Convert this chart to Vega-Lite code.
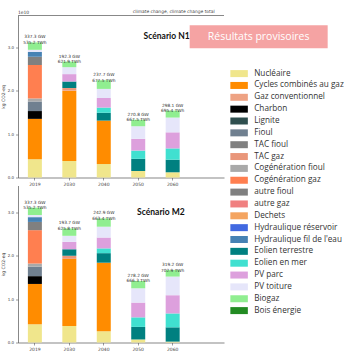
{
  "$schema": "https://vega.github.io/schema/vega-lite/v6.json",
  "padding": {"left": 0, "top": 8.5, "right": 0, "bottom": 0},
  "bounds": "flush",
  "spacing": 8,
  "config": {
    "font": "DejaVu Sans",
    "view": {"stroke": null},
    "axis": {"grid": false, "domainColor": "#555", "tickColor": "#555", "labelColor": "#444", "titleColor": "#444", "domainWidth": 0.7, "tickWidth": 0.6}
  },
  "resolve": {"scale": {"color": "shared"}},
  "datasets": {
    "techs": [
      {"tech": "Nucléaire", "k": 0}, {"tech": "Cycles combinés au gaz", "k": 1}, {"tech": "Gaz conventionnel", "k": 2},
      {"tech": "Charbon", "k": 3}, {"tech": "Lignite", "k": 4}, {"tech": "Fioul", "k": 5}, {"tech": "TAC fioul", "k": 6},
      {"tech": "TAC gaz", "k": 7}, {"tech": "Cogénération fioul", "k": 8}, {"tech": "Cogénération gaz", "k": 9},
      {"tech": "autre fioul", "k": 10}, {"tech": "autre gaz", "k": 11}, {"tech": "Dechets", "k": 12},
      {"tech": "Hydraulique réservoir", "k": 13}, {"tech": "Hydraulique fil de l'eau", "k": 14},
      {"tech": "Eolien terrestre", "k": 15}, {"tech": "Eolien en mer", "k": 16}, {"tech": "PV parc", "k": 17},
      {"tech": "PV toiture", "k": 18}, {"tech": "Biogaz", "k": 19}, {"tech": "Bois énergie", "k": 20}
    ],
    "labN1": [
      {"year": "2019", "lab": "337.3 GW\n535.2 TWh"},
      {"year": "2030", "lab": "192.3 GW\n621.9 TWh"},
      {"year": "2040", "lab": "237.7 GW\n677.5 TWh"},
      {"year": "2050", "lab": "270.8 GW\n667.5 TWh"},
      {"year": "2060", "lab": "298.1 GW\n695.4 TWh"}
    ],
    "labM2": [
      {"year": "2019", "lab": "337.3 GW\n535.2 TWh"},
      {"year": "2030", "lab": "193.7 GW\n625.8 TWh"},
      {"year": "2040", "lab": "242.9 GW\n663.4 TWh"},
      {"year": "2050", "lab": "278.2 GW\n666.3 TWh"},
      {"year": "2060", "lab": "319.2 GW\n702.9 TWh"}
    ],
    "seg": [
      {"s": "N1", "year": "2019", "tech": "Nucléaire", "v": 0.42},
      {"s": "N1", "year": "2019", "tech": "Cycles combinés au gaz", "v": 0.93},
      {"s": "N1", "year": "2019", "tech": "Charbon", "v": 0.18},
      {"s": "N1", "year": "2019", "tech": "Fioul", "v": 0.22},
      {"s": "N1", "year": "2019", "tech": "Cogénération fioul", "v": 0.07},
      {"s": "N1", "year": "2019", "tech": "Cogénération gaz", "v": 0.77},
      {"s": "N1", "year": "2019", "tech": "autre fioul", "v": 0.19},
      {"s": "N1", "year": "2019", "tech": "Hydraulique fil de l'eau", "v": 0.11},
      {"s": "N1", "year": "2019", "tech": "PV toiture", "v": 0.05},
      {"s": "N1", "year": "2019", "tech": "Biogaz", "v": 0.17},
      {"s": "N1", "year": "2030", "tech": "Nucléaire", "v": 0.38},
      {"s": "N1", "year": "2030", "tech": "Cycles combinés au gaz", "v": 1.62},
      {"s": "N1", "year": "2030", "tech": "TAC gaz", "v": 0.06},
      {"s": "N1", "year": "2030", "tech": "Eolien terrestre", "v": 0.15},
      {"s": "N1", "year": "2030", "tech": "PV parc", "v": 0.17},
      {"s": "N1", "year": "2030", "tech": "PV toiture", "v": 0.16},
      {"s": "N1", "year": "2030", "tech": "Biogaz", "v": 0.13},
      {"s": "N1", "year": "2040", "tech": "Nucléaire", "v": 0.31},
      {"s": "N1", "year": "2040", "tech": "Cycles combinés au gaz", "v": 1.00},
      {"s": "N1", "year": "2040", "tech": "Eolien terrestre", "v": 0.18},
      {"s": "N1", "year": "2040", "tech": "Eolien en mer", "v": 0.12},
      {"s": "N1", "year": "2040", "tech": "PV parc", "v": 0.22},
      {"s": "N1", "year": "2040", "tech": "PV toiture", "v": 0.21},
      {"s": "N1", "year": "2040", "tech": "Biogaz", "v": 0.20},
      {"s": "N1", "year": "2050", "tech": "Nucléaire", "v": 0.15},
      {"s": "N1", "year": "2050", "tech": "Eolien terrestre", "v": 0.28},
      {"s": "N1", "year": "2050", "tech": "Eolien en mer", "v": 0.19},
      {"s": "N1", "year": "2050", "tech": "PV parc", "v": 0.27},
      {"s": "N1", "year": "2050", "tech": "PV toiture", "v": 0.29},
      {"s": "N1", "year": "2050", "tech": "Biogaz", "v": 0.15},
      {"s": "N1", "year": "2060", "tech": "Nucléaire", "v": 0.12},
      {"s": "N1", "year": "2060", "tech": "Eolien terrestre", "v": 0.29},
      {"s": "N1", "year": "2060", "tech": "Eolien en mer", "v": 0.26},
      {"s": "N1", "year": "2060", "tech": "PV parc", "v": 0.37},
      {"s": "N1", "year": "2060", "tech": "PV toiture", "v": 0.34},
      {"s": "N1", "year": "2060", "tech": "Biogaz", "v": 0.16},
      {"s": "M2", "year": "2019", "tech": "Nucléaire", "v": 0.42},
      {"s": "M2", "year": "2019", "tech": "Cycles combinés au gaz", "v": 0.93},
      {"s": "M2", "year": "2019", "tech": "Charbon", "v": 0.18},
      {"s": "M2", "year": "2019", "tech": "Fioul", "v": 0.22},
      {"s": "M2", "year": "2019", "tech": "Cogénération fioul", "v": 0.07},
      {"s": "M2", "year": "2019", "tech": "Cogénération gaz", "v": 0.77},
      {"s": "M2", "year": "2019", "tech": "autre fioul", "v": 0.19},
      {"s": "M2", "year": "2019", "tech": "Hydraulique fil de l'eau", "v": 0.11},
      {"s": "M2", "year": "2019", "tech": "PV toiture", "v": 0.05},
      {"s": "M2", "year": "2019", "tech": "Biogaz", "v": 0.17},
      {"s": "M2", "year": "2030", "tech": "Nucléaire", "v": 0.38},
      {"s": "M2", "year": "2030", "tech": "Cycles combinés au gaz", "v": 1.55},
      {"s": "M2", "year": "2030", "tech": "TAC gaz", "v": 0.07},
      {"s": "M2", "year": "2030", "tech": "Eolien terrestre", "v": 0.15},
      {"s": "M2", "year": "2030", "tech": "PV parc", "v": 0.17},
      {"s": "M2", "year": "2030", "tech": "PV toiture", "v": 0.14},
      {"s": "M2", "year": "2030", "tech": "Biogaz", "v": 0.17},
      {"s": "M2", "year": "2040", "tech": "Nucléaire", "v": 0.26},
      {"s": "M2", "year": "2040", "tech": "Cycles combinés au gaz", "v": 1.58},
      {"s": "M2", "year": "2040", "tech": "Eolien terrestre", "v": 0.22},
      {"s": "M2", "year": "2040", "tech": "Eolien en mer", "v": 0.11},
      {"s": "M2", "year": "2040", "tech": "PV parc", "v": 0.25},
      {"s": "M2", "year": "2040", "tech": "PV toiture", "v": 0.25},
      {"s": "M2", "year": "2040", "tech": "Biogaz", "v": 0.19},
      {"s": "M2", "year": "2050", "tech": "Nucléaire", "v": 0.07},
      {"s": "M2", "year": "2050", "tech": "Eolien terrestre", "v": 0.29},
      {"s": "M2", "year": "2050", "tech": "Eolien en mer", "v": 0.22},
      {"s": "M2", "year": "2050", "tech": "PV parc", "v": 0.34},
      {"s": "M2", "year": "2050", "tech": "PV toiture", "v": 0.33},
      {"s": "M2", "year": "2050", "tech": "Biogaz", "v": 0.17},
      {"s": "M2", "year": "2060", "tech": "Nucléaire", "v": 0.02},
      {"s": "M2", "year": "2060", "tech": "Eolien terrestre", "v": 0.33},
      {"s": "M2", "year": "2060", "tech": "Eolien en mer", "v": 0.32},
      {"s": "M2", "year": "2060", "tech": "PV parc", "v": 0.42},
      {"s": "M2", "year": "2060", "tech": "PV toiture", "v": 0.43},
      {"s": "M2", "year": "2060", "tech": "Biogaz", "v": 0.15}
    ]
  },
  "vconcat": [
    {
      "width": 206,
      "height": 162,
      "data": {"name": "seg"},
      "transform": [{"filter": "datum.s === 'N1'"}],
      "layer": [
        {
          "transform": [{"lookup": "tech", "from": {"data": {"name": "techs"}, "key": "tech", "fields": ["k"]}}],
          "mark": {"type": "bar", "width": 14},
          "encoding": {
            "x": {"field": "year", "type": "nominal",
              "scale": {"domain": ["2019", "2030", "2040", "2050", "2060", " "], "paddingInner": 0.6, "paddingOuter": 0.29},
              "axis": {"values": ["2019", "2030", "2040", "2050", "2060"], "title": null, "labelAngle": 0, "labelFontSize": 4.5, "tickSize": 2.5, "labelPadding": 1.5}},
            "y": {"field": "v", "type": "quantitative", "stack": "zero",
              "scale": {"domain": [0, 3.73], "nice": false},
              "axis": {"title": "kg CO2-eq", "titleFontSize": 4.5, "titleFontWeight": "normal", "titlePadding": 2, "labelFontSize": 4, "tickSize": 2.5, "labelPadding": 2, "values": [0, 0.5, 1, 1.5, 2, 2.5, 3, 3.5], "format": ".1f"}},
            "color": {"field": "tech", "type": "nominal",
              "scale": {
                "domain": ["Nucléaire", "Cycles combinés au gaz", "Gaz conventionnel", "Charbon", "Lignite", "Fioul", "TAC fioul", "TAC gaz", "Cogénération fioul", "Cogénération gaz", "autre fioul", "autre gaz", "Dechets", "Hydraulique réservoir", "Hydraulique fil de l'eau", "Eolien terrestre", "Eolien en mer", "PV parc", "PV toiture", "Biogaz", "Bois énergie"],
                "range": ["#f0e68c", "#ff8c00", "#eea283", "#000000", "#2f4f4f", "#708090", "#808080", "#e9967a", "#a9a9a9", "#ff7f50", "#808080", "#f08080", "#f4a460", "#4169e1", "#4682b4", "#008080", "#40e0d0", "#dda0dd", "#e6e6fa", "#90ee90", "#228b22"]},
              "legend": {"orient": "none", "legendX": 217, "legendY": 54, "title": null, "symbolType": "M-2.5,-1H2.5V1H-2.5Z", "symbolSize": 49, "symbolStrokeWidth": 0, "symbolOpacity": 1, "labelFontSize": 8.2, "labelOffset": 11, "rowPadding": 2.85, "labelColor": "#333", "labelLimit": 0, "labelFont": "Open Sans"}},
            "order": {"field": "k", "type": "quantitative"}
          }
        },
        {
          "transform": [
            {"aggregate": [{"op": "sum", "field": "v", "as": "tot"}], "groupby": ["year"]},
            {"lookup": "year", "from": {"data": {"name": "labN1"}, "key": "year", "fields": ["lab"]}}
          ],
          "mark": {"type": "text", "baseline": "bottom", "dy": -3, "fontSize": 4.3, "lineHeight": 5.5, "lineBreak": "\n", "color": "#333"},
          "encoding": {
            "x": {"field": "year", "type": "nominal"},
            "y": {"field": "tot", "type": "quantitative"},
            "text": {"field": "lab"}
          }
        },
        {
          "data": {"values": [{}]},
          "mark": {"type": "rule", "color": "#555", "strokeWidth": 0.7},
          "encoding": {"y": {"datum": 3.73}}
        },
        {
          "data": {"values": [{}]},
          "mark": {"type": "text", "text": "1e10", "align": "left", "baseline": "bottom", "dx": -17, "dy": -1, "fontSize": 4.5, "color": "#444"},
          "encoding": {"x": {"datum": "2019"}, "y": {"datum": 3.73}}
        },
        {
          "data": {"values": [{}]},
          "mark": {"type": "text", "text": "climate change, climate change total", "align": "right", "baseline": "bottom", "dx": 42, "dy": -2, "fontSize": 4.4, "color": "#444"},
          "encoding": {"x": {"datum": "2060"}, "y": {"datum": 3.73}}
        },
        {
          "data": {"values": [{}]},
          "mark": {"type": "text", "text": "Scénario N1", "align": "right", "baseline": "middle", "dx": 17, "fontSize": 8.5, "fontWeight": "bold", "font": "Lato", "color": "#111"},
          "encoding": {"x": {"datum": "2060"}, "y": {"datum": 3.26}}
        },
        {
          "data": {"values": [{}]},
          "mark": {"type": "point", "shape": "M-1,-0.1667H1V0.1667H-1Z", "size": 19044, "filled": true, "opacity": 1, "color": "#f5a3a3", "strokeWidth": 0, "xOffset": 86},
          "encoding": {"x": {"datum": "2060"}, "y": {"datum": 3.24}}
        },
        {
          "data": {"values": [{}]},
          "mark": {"type": "text", "text": "Résultats provisoires", "align": "center", "baseline": "middle", "dx": 86, "fontSize": 10.5, "font": "Open Sans", "color": "#ffffff"},
          "encoding": {"x": {"datum": "2060"}, "y": {"datum": 3.24}}
        }
      ]
    },
    {
      "width": 206,
      "height": 157,
      "data": {"name": "seg"},
      "transform": [{"filter": "datum.s === 'M2'"}],
      "layer": [
        {
          "transform": [{"lookup": "tech", "from": {"data": {"name": "techs"}, "key": "tech", "fields": ["k"]}}],
          "mark": {"type": "bar", "width": 14},
          "encoding": {
            "x": {"field": "year", "type": "nominal",
              "scale": {"domain": ["2019", "2030", "2040", "2050", "2060", " "], "paddingInner": 0.6, "paddingOuter": 0.29},
              "axis": {"values": ["2019", "2030", "2040", "2050", "2060"], "title": null, "labelAngle": 0, "labelFontSize": 4.5, "tickSize": 2.5, "labelPadding": 1.5}},
            "y": {"field": "v", "type": "quantitative", "stack": "zero",
              "scale": {"domain": [0, 3.62], "nice": false},
              "axis": {"title": "kg CO2-eq", "titleFontSize": 4.5, "titleFontWeight": "normal", "titlePadding": 2, "labelFontSize": 4, "tickSize": 2.5, "labelPadding": 2, "values": [0, 0.5, 1, 1.5, 2, 2.5, 3, 3.5], "format": ".1f"}},
            "color": {"field": "tech", "type": "nominal"},
            "order": {"field": "k", "type": "quantitative"}
          }
        },
        {
          "transform": [
            {"aggregate": [{"op": "sum", "field": "v", "as": "tot"}], "groupby": ["year"]},
            {"lookup": "year", "from": {"data": {"name": "labM2"}, "key": "year", "fields": ["lab"]}}
          ],
          "mark": {"type": "text", "baseline": "bottom", "dy": -3, "fontSize": 4.3, "lineHeight": 5.5, "lineBreak": "\n", "color": "#333"},
          "encoding": {
            "x": {"field": "year", "type": "nominal"},
            "y": {"field": "tot", "type": "quantitative"},
            "text": {"field": "lab"}
          }
        },
        {
          "data": {"values": [{}]},
          "mark": {"type": "text", "text": "Scénario M2", "align": "right", "baseline": "middle", "dx": 12, "fontSize": 8.5, "fontWeight": "bold", "font": "Lato", "color": "#111"},
          "encoding": {"x": {"datum": "2060"}, "y": {"datum": 3.0}}
        }
      ]
    }
  ]
}
